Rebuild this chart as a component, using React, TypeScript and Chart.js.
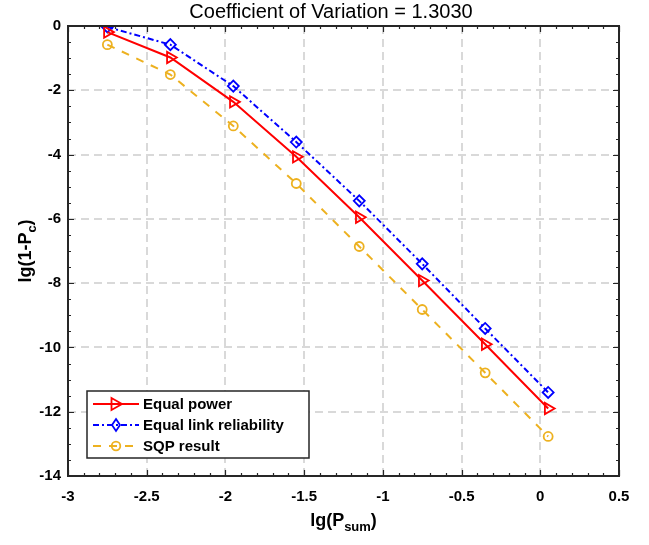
import React, { useEffect, useRef } from "react";
import { Chart, registerables } from "chart.js";

Chart.register(...registerables);

const xValues = [-2.75, -2.35, -1.95, -1.55, -1.15, -0.75, -0.35, 0.05];
const equalPower = [-0.19, -0.98, -2.36, -4.07, -5.95, -7.92, -9.9, -11.9];
const equalLinkReliability = [-0.03, -0.58, -1.87, -3.61, -5.44, -7.4, -9.41, -11.4];
const sqpResult = [-0.58, -1.51, -3.11, -4.9, -6.86, -8.82, -10.79, -12.77];

const xTicks = [-3, -2.5, -2, -1.5, -1, -0.5, 0, 0.5];
const yTicks = [-14, -12, -10, -8, -6, -4, -2, 0];

const titleText = "Coefficient of Variation = 1.3030";
const seriesNames = ["Equal power", "Equal link reliability", "SQP result"];

const RED = "#ff0000";
const BLUE = "#0000ff";
const YELLOW = "#EDB120";
const FONT = "'Liberation Sans', Arial, sans-serif";

function drawMarker(ctx: CanvasRenderingContext2D, kind: string, x: number, y: number, color: string) {
  ctx.save();
  ctx.strokeStyle = color;
  ctx.lineWidth = 1.8;
  ctx.setLineDash([]);
  ctx.beginPath();
  if (kind === "tri") {
    ctx.moveTo(x + 6, y);
    ctx.lineTo(x - 4.5, y - 6);
    ctx.lineTo(x - 4.5, y + 6);
    ctx.closePath();
  } else if (kind === "dia") {
    ctx.moveTo(x, y - 6);
    ctx.lineTo(x + 4, y);
    ctx.lineTo(x, y + 6);
    ctx.lineTo(x - 4, y);
    ctx.closePath();
  } else {
    ctx.arc(x, y, 4.3, 0, Math.PI * 2);
  }
  ctx.stroke();
  ctx.restore();
}

const decorPlugin = {
  id: "decor",
  afterDraw(chart: any) {
    const ctx: CanvasRenderingContext2D = chart.ctx;
    const { left, right, top, bottom } = chart.chartArea;
    const xs = chart.scales.x;
    const ys = chart.scales.y;
    ctx.save();
    // minor / major ticks
    ctx.strokeStyle = "#262626";
    ctx.lineWidth = 1.2;
    ctx.setLineDash([]);
    ctx.beginPath();
    for (let i = 0; i <= 35; i++) {
      const v = -3 + i * 0.1;
      const px = Math.round(xs.getPixelForValue(v)) + 0.5;
      const len = i % 5 === 0 ? 6 : 3;
      ctx.moveTo(px, bottom);
      ctx.lineTo(px, bottom - len);
      ctx.moveTo(px, top);
      ctx.lineTo(px, top + len);
    }
    for (let i = 0; i <= 28; i++) {
      const v = -14 + i * 0.5;
      const py = Math.round(ys.getPixelForValue(v)) + 0.5;
      const len = i % 4 === 0 ? 6 : 3;
      ctx.moveTo(left, py);
      ctx.lineTo(left + len, py);
      ctx.moveTo(right, py);
      ctx.lineTo(right - len, py);
    }
    ctx.stroke();
    // box
    ctx.lineWidth = 2;
    ctx.strokeStyle = "#262626";
    ctx.strokeRect(left, top, right - left, bottom - top);

    // title
    ctx.fillStyle = "#000";
    ctx.font = `20px ${FONT}`;
    ctx.textAlign = "center";
    ctx.textBaseline = "middle";
    ctx.fillText(titleText, 331, 12);

    const subFont = `bold 13px ${FONT}`;
    const drawWithSub = (pre: string, sub: string, post: string, cx: number, cy: number) => {
      ctx.font = `bold 18px ${FONT}`;
      const w1 = ctx.measureText(pre).width;
      const w3 = ctx.measureText(post).width;
      ctx.font = subFont;
      const w2 = ctx.measureText(sub).width;
      const total = w1 + w2 + w3;
      const x0 = cx - total / 2;
      ctx.textAlign = "left";
      ctx.textBaseline = "alphabetic";
      ctx.font = `bold 18px ${FONT}`;
      ctx.fillText(pre, x0, cy);
      ctx.font = subFont;
      ctx.fillText(sub, x0 + w1, cy + 5);
      ctx.font = `bold 18px ${FONT}`;
      ctx.fillText(post, x0 + w1 + w2, cy);
    };
    drawWithSub("lg(P", "sum", ")", (left + right) / 2, 526);
    ctx.save();
    ctx.translate(31, (top + bottom) / 2);
    ctx.rotate(-Math.PI / 2);
    drawWithSub("lg(1-P", "c", ")", 0, 0);
    ctx.restore();

    // legend
    const lx = 87, ly = 391, lw = 222, lh = 67;
    ctx.fillStyle = "#fff";
    ctx.fillRect(lx, ly, lw, lh);
    ctx.lineWidth = 1.5;
    ctx.strokeStyle = "#262626";
    ctx.strokeRect(lx, ly, lw, lh);
    const rows = [
      { y: 404, color: RED, dash: [] as number[], kind: "tri" },
      { y: 425, color: BLUE, dash: [6, 3, 2, 3], kind: "dia" },
      { y: 446, color: YELLOW, dash: [8, 8], kind: "circ" },
    ];
    rows.forEach((r, i) => {
      ctx.save();
      ctx.strokeStyle = r.color;
      ctx.lineWidth = 2;
      ctx.setLineDash(r.dash);
      ctx.beginPath();
      ctx.moveTo(93, r.y);
      ctx.lineTo(139, r.y);
      ctx.stroke();
      ctx.restore();
      drawMarker(ctx, r.kind, 116, r.y, r.color);
      ctx.fillStyle = "#000";
      ctx.font = `bold 15px ${FONT}`;
      ctx.textAlign = "left";
      ctx.textBaseline = "middle";
      ctx.fillText(seriesNames[i], 143, r.y + 1);
    });
    ctx.restore();
  },
};

function fmt(v: number) {
  return String(Math.round(v * 10) / 10);
}

export default function App() {
  const ref = useRef<HTMLCanvasElement>(null);
  useEffect(() => {
    if (!ref.current) return;
    const mk = (vals: number[]) => xValues.map((x, i) => ({ x, y: vals[i] }));
    const chart = new Chart(ref.current, {
      type: "line",
      data: {
        datasets: [
          {
            label: seriesNames[0],
            data: mk(equalPower),
            borderColor: RED,
            borderWidth: 2,
            pointStyle: "triangle",
            rotation: 90,
            pointRadius: 6.5,
            pointBorderWidth: 1.8,
            pointBorderColor: RED,
            pointBackgroundColor: "rgba(0,0,0,0)",
            tension: 0,
          },
          {
            label: seriesNames[1],
            data: mk(equalLinkReliability),
            borderColor: BLUE,
            borderWidth: 2,
            borderDash: [6, 3, 2, 3],
            pointStyle: "rectRot",
            pointRadius: 5.5,
            pointBorderWidth: 1.8,
            pointBorderColor: BLUE,
            pointBackgroundColor: "rgba(0,0,0,0)",
            tension: 0,
          },
          {
            label: seriesNames[2],
            data: mk(sqpResult),
            borderColor: YELLOW,
            borderWidth: 2,
            borderDash: [8, 8],
            pointStyle: "circle",
            pointRadius: 4.5,
            pointBorderWidth: 1.8,
            pointBorderColor: YELLOW,
            pointBackgroundColor: "rgba(0,0,0,0)",
            tension: 0,
          },
        ],
      },
      options: {
        responsive: false,
        animation: false,
        devicePixelRatio: 1,
        layout: { padding: { top: 26, right: 30, left: 0, bottom: 0 } },
        plugins: {
          legend: { display: false },
          title: { display: false },
          tooltip: { enabled: false },
        },
        scales: {
          x: {
            type: "linear",
            min: -3,
            max: 0.5,
            afterBuildTicks: (s: any) => {
              s.ticks = xTicks.map((v) => ({ value: v }));
            },
            afterFit: (s: any) => {
              s.height = 69;
            },
            ticks: {
              color: "#000",
              font: { family: FONT, size: 15, weight: "bold" },
              padding: 12,
              maxRotation: 0,
              autoSkip: false,
              callback: (v: any) => fmt(Number(v)),
            },
            grid: { color: "#d9d9d9", lineWidth: 2, drawTicks: false },
            border: { display: false, dash: [8, 5] },
          },
          y: {
            type: "linear",
            min: -14,
            max: 0,
            afterBuildTicks: (s: any) => {
              s.ticks = yTicks.map((v) => ({ value: v }));
            },
            afterFit: (s: any) => {
              s.width = 68;
            },
            ticks: {
              color: "#000",
              font: { family: FONT, size: 15, weight: "bold" },
              padding: 7,
              autoSkip: false,
              callback: (v: any) => fmt(Number(v)),
            },
            grid: { color: "#d9d9d9", lineWidth: 2, drawTicks: false },
            border: { display: false, dash: [8, 5] },
          },
        },
      } as any,
      plugins: [decorPlugin],
    });
    return () => chart.destroy();
  }, []);
  return (
    <div style={{ position: "fixed", left: 0, top: 0, width: 649, height: 545, background: "#fff" }}>
      <canvas ref={ref} width={649} height={545} style={{ width: 649, height: 545, display: "block" }} />
    </div>
  );
}
